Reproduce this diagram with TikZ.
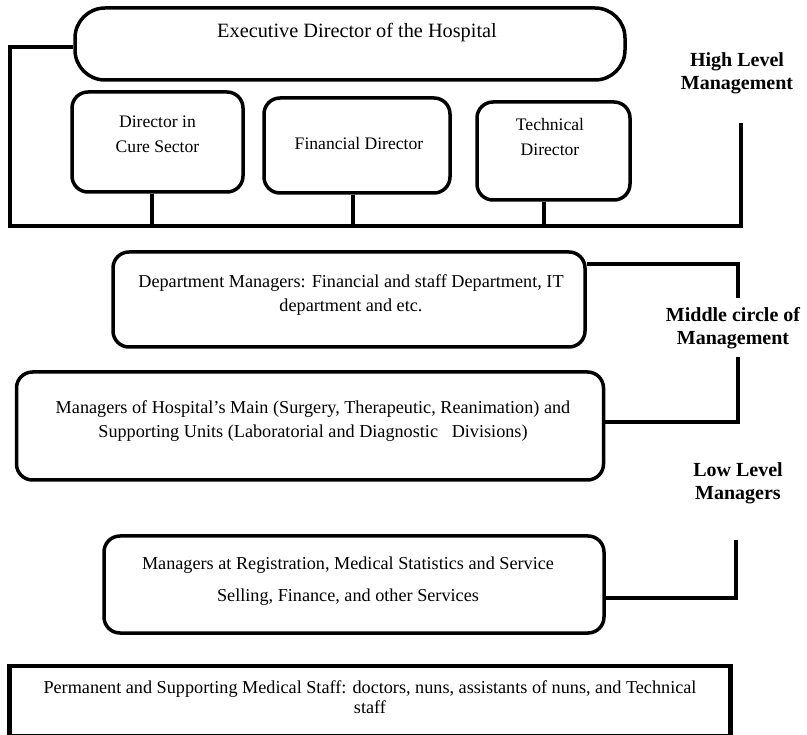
\documentclass[tikz,border=0pt]{standalone}
\usepackage{fontspec}
\setmainfont{Liberation Serif}
\begin{document}
\begin{tikzpicture}[x=1pt,y=-1pt,
  conn/.style={line width=3.5pt},
  rbox/.style={draw, line width=3.5pt, rounded corners=16pt, inner sep=0pt},
  txt/.style={align=center, inner sep=0pt, font=\fontsize{18.2}{24}\selectfont},
  dtxt/.style={align=center, inner sep=0pt, font=\fontsize{17.6}{25}\selectfont},
  lbl/.style={align=center, inner sep=0pt, font=\bfseries\fontsize{20}{23}\selectfont}]
\useasboundingbox (0,0) rectangle (807,735);
% high level
\node[rbox, rounded corners=30pt, minimum width=550pt, minimum height=72pt] (exec) at (350,44) {};
\node[txt, font=\fontsize{20.3}{24}\selectfont] (exectxt) at (357,33) {Executive Director of the Hospital};
\node[rbox, minimum width=171pt, minimum height=100pt] (d1) at (157.5,142) {};
\node[dtxt] (d1txt) at (157.5,134) {Director in\\Cure Sector};
\node[rbox, minimum width=186pt, minimum height=95pt] (d2) at (357,145.5) {};
\node[dtxt] (d2txt) at (359,143) {Financial Director};
\node[rbox, minimum width=153pt, minimum height=98pt] (d3) at (553.5,151) {};
\node[dtxt] (d3txt) at (550,137) {Technical\\Director};
\coordinate (hbL) at (10,226);
\coordinate (hbR) at (741,226);
\coordinate (hbTop) at (741,123);
\draw[conn] ([yshift=-3pt]exec.west) -| (hbL) -- (hbR) -- (hbTop);
\draw[conn] (d1.south -| 152,0) -- (hbL -| 152,0);
\draw[conn] (d2.south -| 353,0) -- (hbL -| 353,0);
\draw[conn] (d3.south -| 544,0) -- (hbL -| 544,0);
\node[lbl] (hl) at (737,73) {High Level\\Management};
% middle
\node[rbox, minimum width=472pt, minimum height=95pt] (dept) at (349,299.5) {};
\node[txt] (depttxt) at (351,295) {Department Managers: Financial and staff Department, IT\\department and etc.};
\node[rbox, minimum width=587pt, minimum height=108pt] (main) at (310,426) {};
\node[txt] (maintxt) at (313,421) {Managers of Hospital's Main (Surgery, Therapeutic, Reanimation) and\\Supporting Units (Laboratorial and Diagnostic\ \ \ Divisions)};
\coordinate (mTop) at (738,298);
\coordinate (mBot) at (738,357);
\draw[conn] (dept.east |- 0,264) -| (mTop);
\draw[conn] (mBot) |- (main.east |- 0,422);
\node[lbl] (ml) at (733,328) {Middle circle of\\Management};
% low
\node[lbl] (ll) at (738,483) {Low Level\\Managers};
\node[rbox, minimum width=500pt, minimum height=97pt] (reg) at (354,584.5) {};
\node[txt, font=\fontsize{18.2}{32}\selectfont] (regtxt) at (348,581) {Managers at Registration, Medical Statistics and Service\\Selling, Finance, and other Services};
\coordinate (lTop) at (736,540);
\draw[conn] (lTop) |- (reg.east |- 0,598);
% staff
\node[draw, line width=4.5pt, minimum width=721pt, minimum height=70pt, inner sep=0pt] (staff) at (370,701) {};
\node[txt, font=\fontsize{18.2}{19.5}\selectfont] (stafftxt) at (370,697) {Permanent and Supporting Medical Staff: doctors, nuns, assistants of nuns, and Technical\\staff};
\end{tikzpicture}
\end{document}
